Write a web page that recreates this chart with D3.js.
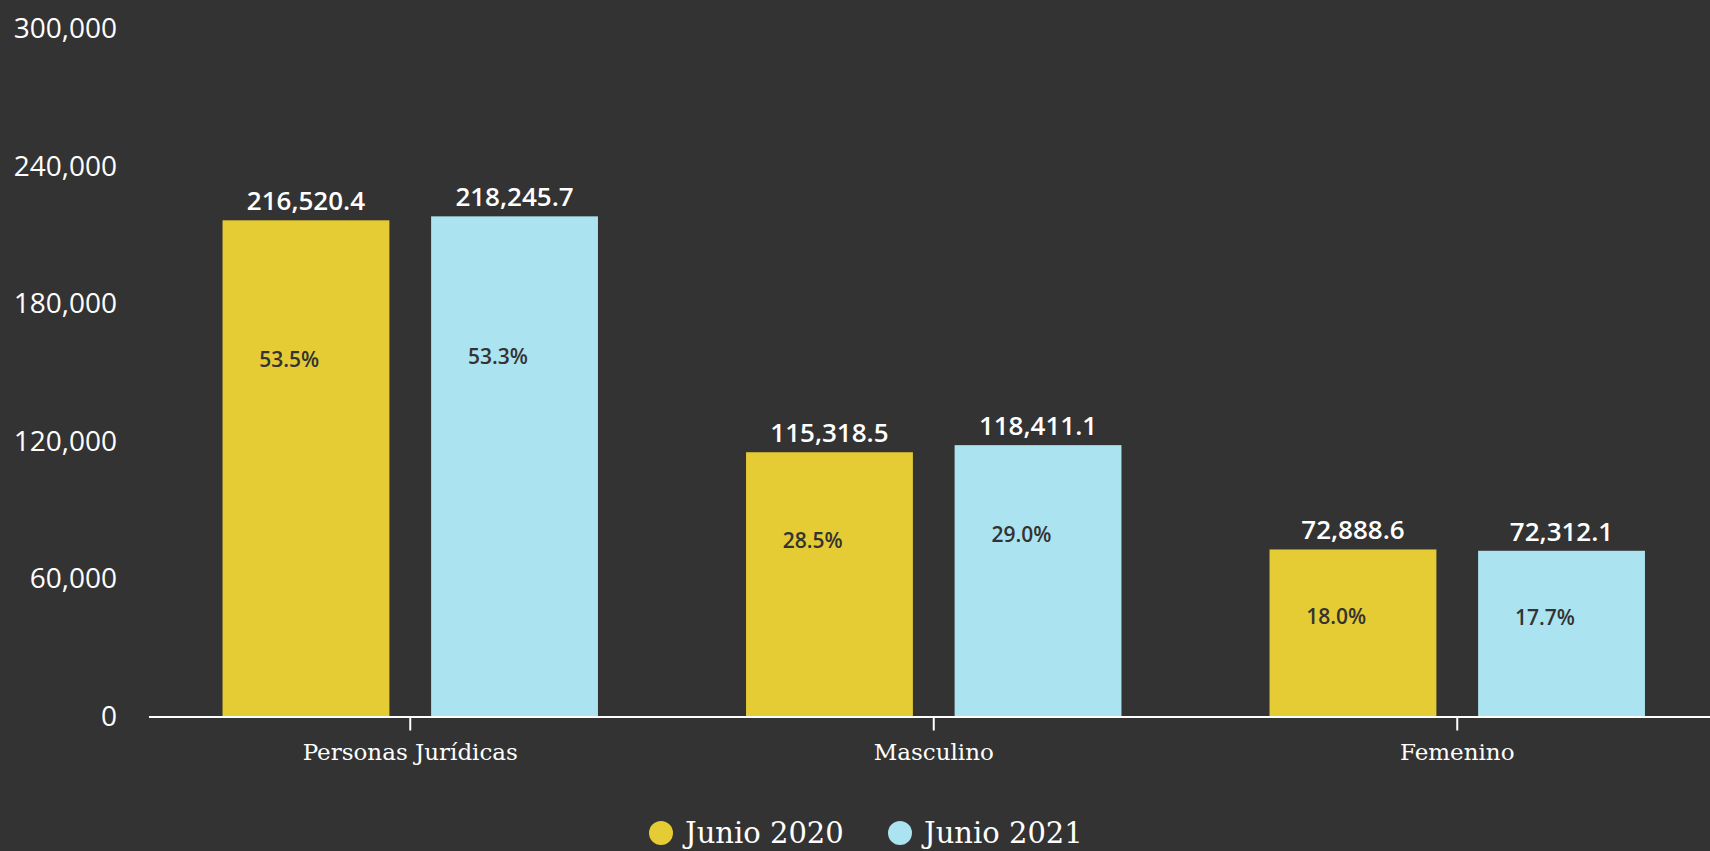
<!DOCTYPE html>
<html>
<head>
<meta charset="utf-8">
<script src="https://cdn.jsdelivr.net/npm/d3@7"></script>
<style>
  body { margin: 0; background: #333333; }
  svg { display: block; }
</style>
</head>
<body>
<script>
// data
const categories = ["Personas Jurídicas", "Masculino", "Femenino"];
const series = ["Junio 2020", "Junio 2021"];
const values2020 = [216520.4, 115318.5, 72888.6];
const values2021 = [218245.7, 118411.1, 72312.1];
const share2020 = ["53.5%", "28.5%", "18.0%"];
const share2021 = ["53.3%", "29.0%", "17.7%"];
const yTicks = [0, 60000, 120000, 180000, 240000, 300000];

const width = 1710, height = 851;
const colors = { "Junio 2020": "#e5cc34", "Junio 2021": "#abe3f0" };

// rows for the grouped bars
const rows = [];
categories.forEach((c, i) => {
    rows.push({ cat: c, s: series[0], v: values2020[i], pct: share2020[i] });
    rows.push({ cat: c, s: series[1], v: values2021[i], pct: share2021[i] });
});

const svg = d3.select("body")
    .append("svg")
    .attr("width", width)
    .attr("height", height);

// scales
const x0 = d3.scaleBand()
    .domain(categories)
    .range([148.5, 1719])
    .padding(0);

const x1 = d3.scaleBand()
    .domain(series)
    .range([0, x0.bandwidth()])
    .paddingInner(0.2)
    .paddingOuter(0.355);

const y = d3.scaleLinear()
    .domain([0, 300000])
    .range([716.5, 29]);

// y axis, labels only
const yAxis = svg.append("g")
    .attr("transform", "translate(117,0)")
    .call(d3.axisLeft(y).tickValues(yTicks).tickSize(0).tickPadding(0).tickFormat(d3.format(",")));
yAxis.select(".domain").remove();
yAxis.selectAll("text")
    .attr("fill", "#ffffff")
    .style("font-family", "'Open Sans', sans-serif")
    .style("font-size", "28px");

// bars
const bars = svg.append("g");
bars.selectAll("rect")
    .data(rows)
    .enter()
    .append("rect")
    .attr("x", d => x0(d.cat) + x1(d.s))
    .attr("y", d => y(d.v))
    .attr("width", x1.bandwidth())
    .attr("height", d => y(0) - y(d.v))
    .attr("fill", d => colors[d.s]);

// value labels above bars
svg.append("g").selectAll("text")
    .data(rows)
    .enter()
    .append("text")
    .attr("x", d => x0(d.cat) + x1(d.s) + x1.bandwidth() / 2)
    .attr("y", d => y(d.v) - 10)
    .attr("text-anchor", "middle")
    .attr("fill", "#ffffff")
    .style("font-family", "'Open Sans', sans-serif")
    .style("font-weight", 600)
    .style("font-size", "26px")
    .text(d => d3.format(",.1f")(d.v));

// share labels inside bars, a bit below the top
svg.append("g").selectAll("text")
    .data(rows)
    .enter()
    .append("text")
    .attr("x", d => x0(d.cat) + x1(d.s) + x1.bandwidth() * 0.4)
    .attr("y", d => y(d.v) + 0.22 * (y(0) - y(d.v)) + 30)
    .attr("dy", "0.35em")
    .attr("text-anchor", "middle")
    .attr("fill", "#333333")
    .style("font-family", "'Open Sans', sans-serif")
    .style("font-weight", 600)
    .style("font-size", "21px")
    .text(d => d.pct);

// x axis
const xAxis = svg.append("g")
    .attr("transform", "translate(0," + y(0) + ")")
    .call(d3.axisBottom(x0).tickSize(14).tickSizeOuter(0).tickPadding(13));
xAxis.select(".domain").attr("stroke", "#ffffff").attr("stroke-width", 2);
xAxis.selectAll(".tick line").attr("stroke", "#ffffff").attr("stroke-width", 2);
xAxis.selectAll("text")
    .attr("fill", "#ffffff")
    .style("font-family", "'DejaVu Serif', serif")
    .style("font-size", "23px");

// legend
const legend = svg.append("g")
    .selectAll("g")
    .data(series)
    .enter()
    .append("g")
    .attr("transform", (d, i) => "translate(" + (661 + i * 239) + ",833)");

legend.append("circle")
    .attr("r", 12)
    .attr("fill", d => colors[d]);

legend.append("text")
    .attr("x", 24)
    .attr("dy", "0.36em")
    .attr("fill", "#ffffff")
    .style("font-family", "'DejaVu Serif', serif")
    .style("font-size", "29px")
    .text(d => d);
</script>
</body>
</html>
